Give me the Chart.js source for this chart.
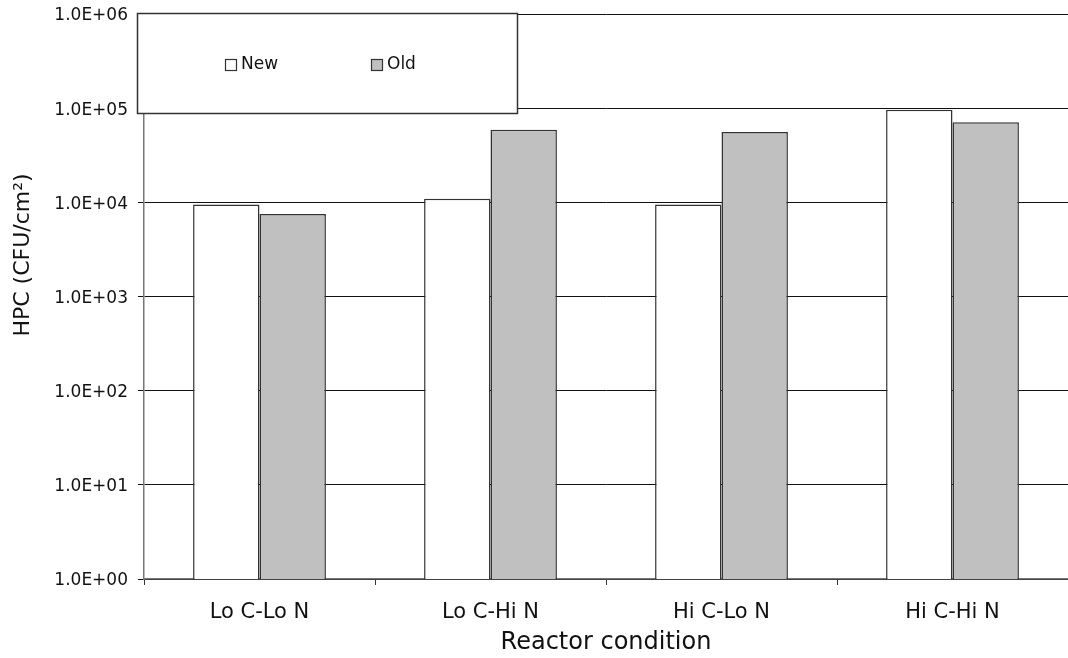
<!DOCTYPE html>
<html>
<head>
<meta charset="utf-8">
<script src="https://cdn.jsdelivr.net/npm/chart.js@4/dist/chart.umd.min.js"></script>
<style>
  html, body { margin: 0; padding: 0; background: #fff; }
  #wrap { width: 1068px; height: 658px; position: relative; }
</style>
</head>
<body>
<div id="wrap"><canvas id="c" width="1068" height="658"></canvas></div>
<script>
// Heterotrophic plate counts per reactor condition
const categories = ['Lo C-Lo N', 'Lo C-Hi N', 'Hi C-Lo N', 'Hi C-Hi N'];
const newValues = [9500, 10900, 9500, 96000];
const oldValues = [7500, 59000, 56000, 71000];
const yTicks = [1, 10, 100, 1000, 10000, 100000, 1000000];
const yTickLabels = ['1.0E+00', '1.0E+01', '1.0E+02', '1.0E+03', '1.0E+04', '1.0E+05', '1.0E+06'];
const yTitle = 'HPC (CFU/cm²)';

const FONT = "'DejaVu Sans', 'Liberation Sans', Arial, sans-serif";

// Boxed legend inside the upper-left of the plot, plus the rotated y title
const boxLegend = {
  id: 'boxLegend',
  afterDraw(chart) {
    const ctx = chart.ctx;
    const x0 = 137, y0 = 13, w = 380, h = 100;
    ctx.save();
    ctx.fillStyle = '#fff';
    ctx.fillRect(x0, y0, w, h);
    ctx.strokeStyle = '#333';
    ctx.lineWidth = 1.5;
    ctx.strokeRect(x0 + 0.5, y0 + 0.5, w, h);
    const items = [
      { x: 225, ds: chart.data.datasets[0] },
      { x: 371, ds: chart.data.datasets[1] }
    ];
    ctx.font = '17px ' + FONT;
    ctx.textBaseline = 'middle';
    ctx.textAlign = 'left';
    items.forEach(it => {
      ctx.fillStyle = it.ds.backgroundColor;
      ctx.fillRect(it.x, 59, 11, 11);
      ctx.lineWidth = 1.2;
      ctx.strokeStyle = '#333';
      ctx.strokeRect(it.x + 0.5, 59.5, 11, 11);
      ctx.fillStyle = '#111';
      ctx.fillText(it.ds.label, it.x + 16, 65);
    });

    ctx.translate(23, 255);
    ctx.rotate(-Math.PI / 2);
    ctx.font = '22px ' + FONT;
    ctx.textAlign = 'center';
    ctx.textBaseline = 'middle';
    ctx.fillStyle = '#111';
    ctx.fillText(yTitle, 0, 0);
    ctx.restore();
  }
};

new Chart(document.getElementById('c'), {
  type: 'bar',
  data: {
    labels: categories,
    datasets: [
      { label: 'New', data: newValues, backgroundColor: '#ffffff', borderColor: '#333333', borderWidth: 1.5 },
      { label: 'Old', data: oldValues, backgroundColor: '#c0c0c0', borderColor: '#333333', borderWidth: 1.5 }
    ]
  },
  options: {
    responsive: false,
    animation: false,
    devicePixelRatio: 1,
    layout: { padding: { top: 14, right: 0, left: 0, bottom: 0 } },
    plugins: { legend: { display: false }, tooltip: { enabled: false } },
    datasets: { bar: { categoryPercentage: 0.575, barPercentage: 1.0 } },
    scales: {
      x: {
        grid: { display: true, offset: true, drawOnChartArea: false, drawTicks: true, tickLength: 6, color: '#333' },
        border: { display: true, color: '#777', width: 1.5 },
        ticks: { color: '#111', font: { family: FONT, size: 21 }, padding: 15, maxRotation: 0 },
        title: { display: true, text: 'Reactor condition', color: '#111', font: { family: FONT, size: 24 }, padding: { top: 0, bottom: 1 } },
        afterFit(scale) { scale.height = 79; scale.paddingLeft = 0; scale.paddingRight = 0; }
      },
      y: {
        type: 'logarithmic',
        min: 1,
        max: 1000000,
        afterBuildTicks(scale) { scale.ticks = yTicks.map(v => ({ value: v, major: true })); },
        grid: { color: '#111', lineWidth: 1, drawTicks: true, tickLength: 6 },
        border: { display: true, color: '#777', width: 1.5 },
        ticks: {
          color: '#111',
          font: { family: FONT, size: 17 },
          padding: 10,
          labelOffset: 2,
          callback(value) { const i = yTicks.indexOf(value); return i >= 0 ? yTickLabels[i] : ''; }
        },
        afterFit(scale) { scale.width = 144; scale.paddingTop = 0; scale.paddingBottom = 0; }
      }
    }
  },
  plugins: [boxLegend]
});
</script>
</body>
</html>
